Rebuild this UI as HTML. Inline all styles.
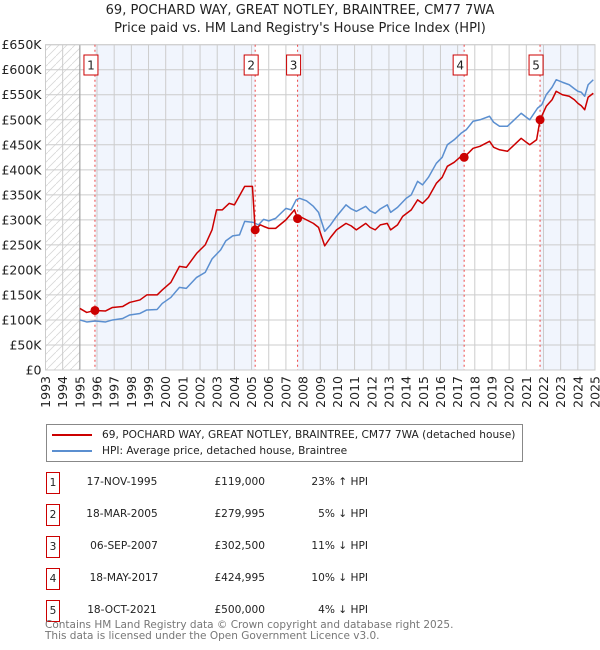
<!DOCTYPE html>
<html><head><meta charset="utf-8"><style>
body{margin:0;background:#fff;}
svg{display:block;font-family:"DejaVu Sans","Liberation Sans",sans-serif;}
</style></head><body>
<svg id="c" width="600" height="650" xmlns="http://www.w3.org/2000/svg"></svg>
<script>
const hpiYears=[1995.0,1995.4,1995.9,1996.5,1996.9,1997.5,1997.9,1998.5,1998.9,1999.5,1999.8,2000.3,2000.8,2001.2,2001.8,2002.3,2002.7,2003.2,2003.5,2003.9,2004.3,2004.6,2005.1,2005.4,2005.7,2006.0,2006.4,2007.0,2007.3,2007.6,2007.8,2008.2,2008.6,2008.9,2009.26,2009.6,2009.95,2010.5,2010.8,2011.1,2011.65,2011.9,2012.2,2012.5,2012.9,2013.1,2013.5,2014.0,2014.3,2014.67,2014.96,2015.3,2015.76,2016.1,2016.4,2016.8,2017.2,2017.5,2017.9,2018.3,2018.86,2019.1,2019.44,2019.9,2020.3,2020.7,2021.0,2021.2,2021.65,2021.9,2022.16,2022.5,2022.74,2023.1,2023.5,2023.8,2024.0,2024.2,2024.4,2024.6,2024.9];
const hpiValues=[100,96,98,96,100,103,110,113,120,121,133,145,165,163,185,195,222,240,258,268,270,297,295,290,301,298,303,323,320,340,343,338,327,315,277,290,307,330,322,317,327,318,313,322,330,315,325,343,350,377,370,385,413,425,450,460,473,480,497,500,507,495,487,487,500,513,505,500,523,530,550,565,580,575,570,562,557,555,547,570,580];
const ppYears=[1995.0,1995.4,1995.88,1996.5,1996.9,1997.5,1997.9,1998.5,1998.9,1999.5,1999.8,2000.3,2000.8,2001.2,2001.8,2002.3,2002.7,2002.96,2003.3,2003.7,2004.0,2004.6,2005.05,2005.21,2005.5,2005.7,2006.0,2006.4,2007.0,2007.5,2007.68,2007.8,2008.2,2008.6,2008.9,2009.26,2009.6,2009.95,2010.5,2010.8,2011.1,2011.65,2011.9,2012.2,2012.5,2012.9,2013.1,2013.5,2013.8,2014.3,2014.67,2014.96,2015.3,2015.76,2016.1,2016.4,2016.8,2017.2,2017.38,2017.9,2018.3,2018.86,2019.1,2019.44,2019.9,2020.3,2020.7,2021.0,2021.2,2021.6,2021.8,2022.16,2022.5,2022.74,2023.1,2023.5,2023.8,2024.0,2024.2,2024.4,2024.6,2024.9];
const ppValues=[123,115,119,118,125,127,135,140,150,150,160,175,207,205,233,250,280,320,320,333,330,367,367,280,290,287,283,283,300,320,302.5,307,300,293,285,248,265,280,293,288,280,293,285,280,290,293,280,290,307,320,340,333,345,373,385,407,415,427,425,443,447,457,445,440,437,450,463,455,450,460,500,527,540,557,550,547,540,533,528,520,545,553];
const saleYears=[1995.88,2005.21,2007.68,2017.38,2021.8];
const salePrices=[119,279.995,302.5,424.995,500];
const saleLabels=["1","2","3","4","5"];
const yTicks=[0,50,100,150,200,250,300,350,400,450,500,550,600,650];
const yTickLabels=["£0","£50K","£100K","£150K","£200K","£250K","£300K","£350K","£400K","£450K","£500K","£550K","£600K","£650K"];
const xTicks=[1993,1994,1995,1996,1997,1998,1999,2000,2001,2002,2003,2004,2005,2006,2007,2008,2009,2010,2011,2012,2013,2014,2015,2016,2017,2018,2019,2020,2021,2022,2023,2024,2025];

const L=45.5,R=595,T=44.7,B=370;
const X=y=>L+(y-1993)/(2025-1993)*(R-L);
const Y=v=>B-v/650*(B-T);
const NS="http://www.w3.org/2000/svg";
const svg=document.getElementById('c');
function mk(tag,attrs,parent){const e=document.createElementNS(NS,tag);for(const k in attrs)e.setAttribute(k,attrs[k]);(parent||svg).appendChild(e);return e;}

const defs=mk('defs',{});
const pat=mk('pattern',{id:'h',width:8,height:8,patternUnits:'userSpaceOnUse'},defs);
mk('path',{d:'M0,8 L8,0',stroke:'#d8d8d8','stroke-width':0.8},pat);

const bandEdges=[1995].concat(saleYears).concat([2025]);
const hatch=mk('rect',{x:L,y:T,width:X(1995)-L,height:B-T,fill:'url(#h)'});


for(let i=0;i<bandEdges.length-1;i++){
  if(i%2===1){
    const b=mk('rect',{x:X(bandEdges[i]),y:T,width:X(bandEdges[i+1])-X(bandEdges[i]),height:B-T,fill:'#f1f5fd'});
    
    
  }
}
yTicks.forEach((v,i)=>{
  mk('line',{x1:L,x2:R,y1:Y(v),y2:Y(v),stroke:'#cccccc','stroke-width':1});
  const t=mk('text',{x:L-4,y:Y(v)+4.5,'text-anchor':'end','font-size':12.5,fill:'#222'});
  t.textContent=yTickLabels[i];
  
  
});
xTicks.forEach(yr=>{
  mk('line',{x1:X(yr),x2:X(yr),y1:T,y2:B,stroke:'#cccccc','stroke-width':1});
  const t=mk('text',{x:0,y:0,'text-anchor':'end','font-size':12.5,fill:'#222',transform:`translate(${X(yr)+4.5},376) rotate(-90)`});
  t.textContent=yr;
  
  
});
mk('line',{x1:X(1995),x2:X(1995),y1:T,y2:B,stroke:'#999','stroke-width':1});
mk('rect',{x:L,y:T,width:R-L,height:B-T,fill:'none',stroke:'#ccc'});

saleYears.forEach((s,i)=>{
  const l=mk('line',{x1:X(s),x2:X(s),y1:T,y2:B,stroke:'#ee4444','stroke-width':1,'stroke-dasharray':'2,3'});
  
  
  const g=mk('g',{});
  
  
  mk('rect',{x:X(s)-11,y:55,width:14,height:20,fill:'#fff',stroke:'#cc0000','stroke-width':1},g);
  const t=mk('text',{x:X(s)-4,y:69.5,'text-anchor':'middle','font-size':12,fill:'#222'},g);
  t.textContent=saleLabels[i];
});

const hp=mk('polyline',{points:hpiYears.map((y,i)=>X(y)+','+Y(hpiValues[i])).join(' '),fill:'none',stroke:'#5b8fd0','stroke-width':1.5,'stroke-linejoin':'round'});


const pp=mk('polyline',{points:ppYears.map((y,i)=>X(y)+','+Y(ppValues[i])).join(' '),fill:'none',stroke:'#cc0000','stroke-width':1.5,'stroke-linejoin':'round'});


saleYears.forEach((s,i)=>{
  const c=mk('circle',{cx:X(s),cy:Y(salePrices[i]),r:4.5,fill:'#cc0000'});
  
  
});
</script>
<div style="position:absolute;left:0;top:0;width:600px;text-align:center;font-family:'DejaVu Sans',sans-serif;font-size:13px;color:#222;line-height:18px;padding-top:2px">69, POCHARD WAY, GREAT NOTLEY, BRAINTREE, CM77 7WA<br>Price paid vs. HM Land Registry's House Price Index (HPI)</div>

<div style="position:absolute;left:46px;top:424px;width:475px;height:36px;border:1px solid #888;font-family:'DejaVu Sans',sans-serif;font-size:10.6px;color:#222;">
  <div style="position:absolute;left:5px;top:4px;white-space:nowrap"><span style="display:inline-block;width:40px;height:2px;background:#cc0000;vertical-align:middle;margin-right:10px"></span>69, POCHARD WAY, GREAT NOTLEY, BRAINTREE, CM77 7WA (detached house)</div>
  <div style="position:absolute;left:5px;top:20px;white-space:nowrap"><span style="display:inline-block;width:40px;height:2px;background:#5b8fd0;vertical-align:middle;margin-right:10px"></span>HPI: Average price, detached house, Braintree</div>
</div>

<div style="position:absolute;left:0;top:0;font-family:'DejaVu Sans',sans-serif;font-size:10.6px;color:#222;">
<div><div style="position:absolute;left:46px;top:472px;width:12px;height:20px;border:1px solid #cc0000;text-align:center;line-height:20px">1</div><div style="position:absolute;left:72px;top:476px;width:100px;text-align:center">17-NOV-1995</div><div style="position:absolute;left:180px;top:476px;width:85px;text-align:right">£119,000</div><div style="position:absolute;left:290px;top:476px;width:78px;text-align:right">23% ↑ HPI</div></div>
<div><div style="position:absolute;left:46px;top:504px;width:12px;height:20px;border:1px solid #cc0000;text-align:center;line-height:20px">2</div><div style="position:absolute;left:72px;top:508px;width:100px;text-align:center">18-MAR-2005</div><div style="position:absolute;left:180px;top:508px;width:85px;text-align:right">£279,995</div><div style="position:absolute;left:290px;top:508px;width:78px;text-align:right">5% ↓ HPI</div></div>
<div><div style="position:absolute;left:46px;top:536px;width:12px;height:20px;border:1px solid #cc0000;text-align:center;line-height:20px">3</div><div style="position:absolute;left:74px;top:540px;width:100px;text-align:center">06-SEP-2007</div><div style="position:absolute;left:180px;top:540px;width:85px;text-align:right">£302,500</div><div style="position:absolute;left:290px;top:540px;width:78px;text-align:right">11% ↓ HPI</div></div>
<div><div style="position:absolute;left:46px;top:568px;width:12px;height:20px;border:1px solid #cc0000;text-align:center;line-height:20px">4</div><div style="position:absolute;left:74px;top:572px;width:100px;text-align:center">18-MAY-2017</div><div style="position:absolute;left:180px;top:572px;width:85px;text-align:right">£424,995</div><div style="position:absolute;left:290px;top:572px;width:78px;text-align:right">10% ↓ HPI</div></div>
<div><div style="position:absolute;left:46px;top:600px;width:12px;height:20px;border:1px solid #cc0000;text-align:center;line-height:20px">5</div><div style="position:absolute;left:72px;top:604px;width:100px;text-align:center">18-OCT-2021</div><div style="position:absolute;left:180px;top:604px;width:85px;text-align:right">£500,000</div><div style="position:absolute;left:290px;top:604px;width:78px;text-align:right">4% ↓ HPI</div></div>
</div>

<div style="position:absolute;left:45px;top:620px;font-family:'DejaVu Sans',sans-serif;font-size:10.5px;color:#777;line-height:11px">Contains HM Land Registry data © Crown copyright and database right 2025.<br>This data is licensed under the Open Government Licence v3.0.</div>
</body></html>
